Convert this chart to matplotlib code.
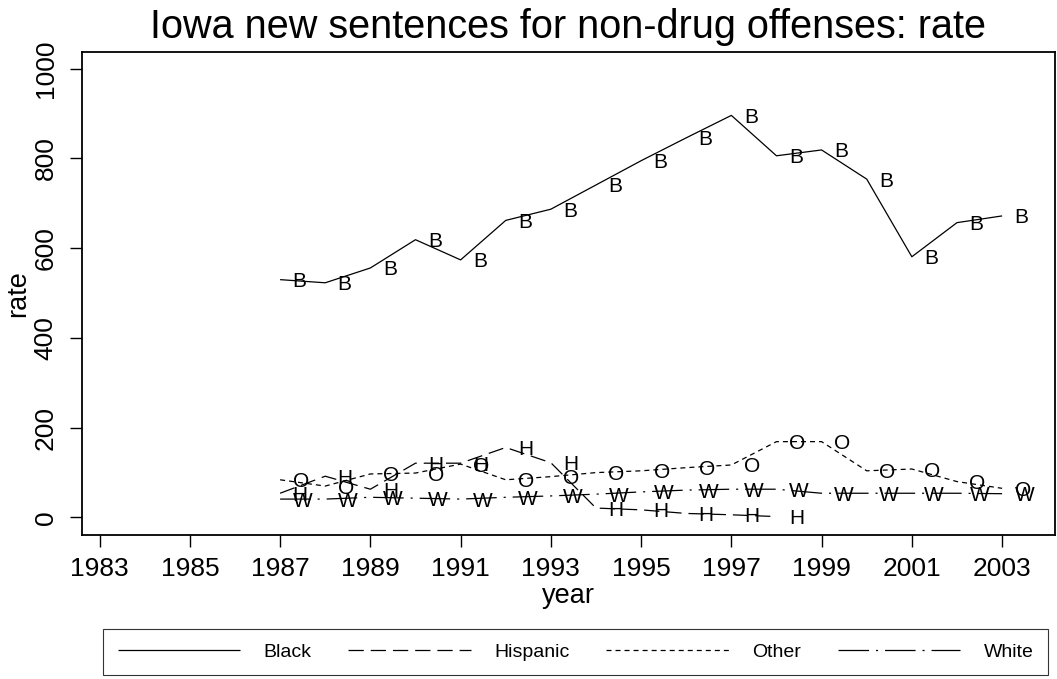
import matplotlib
matplotlib.use("Agg")
import matplotlib.pyplot as plt

# === DATA ===
years = list(range(1987, 2004))
black = [530, 523, 556, 619, 574, 662, 687, 741, 795, 846, 896, 806, 819, 754, 581, 657, 672]
hisp_years = list(range(1987, 1999))
hispanic = [54, 92, 63, 121, 121, 156, 122, 21, 17, 9, 6, 2]
other = [84, 70, 97, 99, 119, 84, 91, 100, 104, 111, 117, 169, 169, 104, 108, 80, 65]
white = [41, 41, 45, 43, 41, 45, 48, 52, 57, 61, 63, 63, 54, 54, 54, 54, 53]

x_ticks = list(range(1983, 2004, 2))
y_ticks = list(range(0, 1001, 200))

# === STYLE ===
plt.rcParams['font.family'] = ['Liberation Sans', 'DejaVu Sans']
plt.rcParams['lines.scale_dashes'] = False

fig = plt.figure(figsize=(10.57, 6.79), dpi=100)
ax = fig.add_axes([0.0776, 0.2121, 0.9204, 0.7118])

series = [
    ("Black", years, black, "B", (0, ())),
    ("Hispanic", hisp_years, hispanic, "H", (0, (11, 5))),
    ("Other", years, other, "O", (0, (3.6, 2.9))),
    ("White", years, white, "W", (0, (22, 5, 1.5, 5))),
]

for name, xs, ys, letter, ls in series:
    ax.plot(xs, ys, color="black", lw=0.9, linestyle=ls, label=name)
    for x, y in zip(xs, ys):
        ax.annotate(letter, (x, y), xytext=(9, 0), textcoords="offset points",
                    ha="left", va="center_baseline", fontsize=15)

ax.set_xlim(1982.61, 2004.17)
ax.set_ylim(-39, 1038)
ax.set_xticks(x_ticks)
ax.set_yticks(y_ticks)
ax.tick_params(axis="both", direction="out", length=8.5, width=1.0, labelsize=19)
ax.tick_params(axis="x", pad=7)
ax.tick_params(axis="y", pad=9)
ax.set_yticklabels([str(v) for v in y_ticks], rotation=90, va="center")
for s in ax.spines.values():
    s.set_linewidth(1.3)

ax.set_xlabel("year", fontsize=19.5, labelpad=2)
ax.set_ylabel("rate", fontsize=19.5, labelpad=2)
ax.set_title("Iowa new sentences for non-drug offenses: rate", fontsize=28.5, pad=10)

leg = fig.legend(loc="center", ncol=4, mode="expand",
                 bbox_to_anchor=(103 / 1057, 2 / 679, 945 / 1057, 50 / 679),
                 fontsize=14, handlelength=6.3, handletextpad=1.2, borderpad=0.75,
                 frameon=True, fancybox=False, edgecolor="black", borderaxespad=0)
leg.get_frame().set_linewidth(0.8)

fig.savefig("out.png", dpi=100)
